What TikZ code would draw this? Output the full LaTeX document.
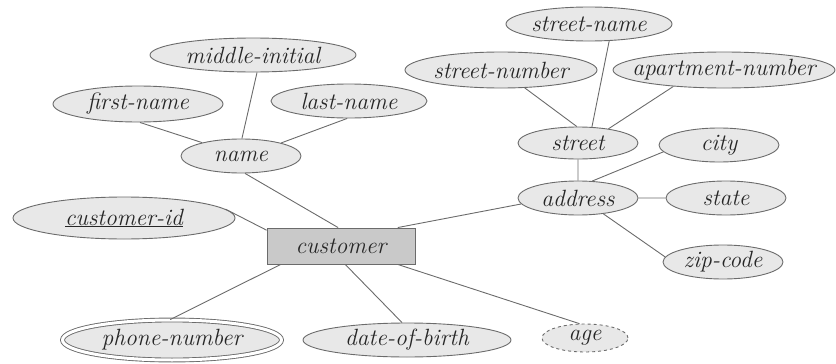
\documentclass[tikz,border=0pt]{standalone}
\usetikzlibrary{shapes.geometric}
\definecolor{AttrClr}{rgb}{0.91,0.91,0.91}
\definecolor{EntClr}{rgb}{0.79,0.79,0.79}
\definecolor{LineClr}{rgb}{0.42,0.42,0.42}
\definecolor{TextClr}{rgb}{0.15,0.15,0.15}

\begin{document}
\begin{tikzpicture}[x=1pt,y=-1pt,
  attr/.style={ellipse,draw=LineClr,fill=AttrClr,line width=0.9pt,inner xsep=-20pt,inner ysep=0pt,
    text=TextClr,font=\fontsize{23.5}{26}\selectfont\itshape},
  ent/.style={rectangle,draw=LineClr,fill=EntClr,line width=0.9pt,inner sep=0pt,
    text=TextClr,font=\fontsize{23.5}{26}\selectfont\itshape},
  link/.style={draw=LineClr,line width=0.9pt}]

\useasboundingbox (0,0) rectangle (836,364);

% entity
\node[ent,minimum width=148,minimum height=36] (Cust) at (341,246) {customer};

% name and its parts
\node[attr,minimum width=120,minimum height=34] (Name) at (241,156) {name};
\node[attr,minimum width=170,minimum height=36] (First) at (138,104) {first-name};
\node[attr,minimum width=206,minimum height=34] (Middle) at (253,55) {middle-initial};
\node[attr,minimum width=156,minimum height=34] (Last) at (349,101) {last-name};

% address and its parts
\node[attr,minimum width=120,minimum height=34] (Addr) at (578,198) {address};
\node[attr,minimum width=120,minimum height=32] (Street) at (578,143) {street};
\node[attr,minimum width=166,minimum height=34] (StName) at (589,24) {street-name};
\node[attr,minimum width=192,minimum height=36] (StNum) at (501,70) {street-number};
\node[attr,minimum width=222,minimum height=36] (AptNum) at (724,70) {apartment-number};
\node[attr,minimum width=120,minimum height=34] (City) at (719,145) {city};
\node[attr,minimum width=120,minimum height=34] (State) at (726,198) {state};
\node[attr,minimum width=120,minimum height=34] (Zip) at (723,262) {zip-code};

% other attributes
\node[attr,minimum width=222,minimum height=42] (CustId) at (124,218) {\underline{customer-id}};
\node[attr,minimum width=219,minimum height=40,double=white,double distance=3pt] (Phone) at (172,340) {phone-number};
\node[attr,minimum width=208,minimum height=34] (Birth) at (407,340) {date-of-birth};
\node[attr,minimum width=86,minimum height=28,dashed] (Age) at (585,338) {age};

\draw[link] (First.-84) -- (Name.161)
  (Middle.-77) -- (Name.87)
  (Last.-96) -- (Name.18)
  (Name.-77) -- (Cust.99)
  (CustId.5) -- (Cust.168)
  (Cust.197) -- (Phone.95)
  (Cust.-77) -- (Birth.106)
  (Cust.-18) -- (Age.111)
  (Cust.18) -- (Addr.186)
  (Addr.0) -- (State.180)
  (Addr.-32) -- (Zip.175)
  (Street.-90) -- (Addr.90)
  (City.187) -- (Addr.50)
  (StNum.-37) -- (Street.94)
  (StName.-40) -- (Street.49)
  (AptNum.198) -- (Street.25);

\end{tikzpicture}
\end{document}
